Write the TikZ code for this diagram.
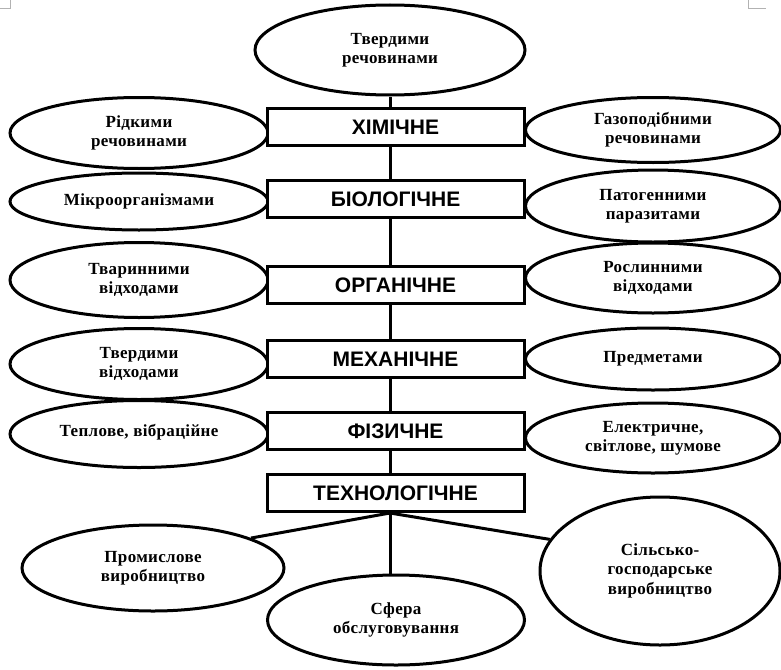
\documentclass[tikz,border=0pt]{standalone}
\usepackage{fontspec}
\setmainfont{Liberation Serif}[LetterSpace=2]
\newfontfamily\boxfont{Liberation Sans}
\usetikzlibrary{shapes.geometric}
\newcommand{\etext}[2]{\raisebox{#1}{\begin{tabular}{@{}c@{}}#2\end{tabular}}}
\begin{document}
\begin{tikzpicture}[x=1pt,y=-1pt,
  ell/.style={ellipse,draw=black,fill=white,line width=3pt,inner sep=0pt,
    font=\fontsize{17}{19.5}\selectfont\bfseries},
  cat/.style={rectangle,draw=black,fill=white,line width=3pt,minimum width=257pt,
    minimum height=37pt,inner sep=0pt,font=\boxfont\fontsize{21}{24}\selectfont\bfseries},
  link/.style={line width=3pt},
  cornermark/.style={draw=gray!60,line width=0.8pt}]
\useasboundingbox (0,0) rectangle (781,669);
% page corner marks
\coordinate (m1a) at (0,8); \coordinate (m1b) at (10,8); \coordinate (m1c) at (10,0);
\coordinate (m2a) at (748,0); \coordinate (m2b) at (748,8); \coordinate (m2c) at (766,8);
\draw[cornermark] (m1a) -- (m1b) -- (m1c);
\draw[cornermark] (m2a) -- (m2b) -- (m2c);
% top ellipse
\node[ell,minimum width=270pt,minimum height=90pt] (top) at (390,50) {\etext{2pt}{Твердими\\речовинами}};
% left ellipses
\node[ell,minimum width=258pt,minimum height=71pt] (l1) at (139,133) {\etext{0pt}{Рідкими\\речовинами}};
\node[ell,minimum width=258pt,minimum height=57pt] (l2) at (139,201.5) {\etext{4pt}{Мікроорганізмами}};
\node[ell,minimum width=258pt,minimum height=75pt] (l3) at (139,280) {\etext{0pt}{Тваринними\\відходами}};
\node[ell,minimum width=258pt,minimum height=71pt] (l4) at (139,364) {\etext{-2pt}{Твердими\\відходами}};
\node[ell,minimum width=258pt,minimum height=67pt] (l5) at (139,434) {\etext{9pt}{Теплове, вібраційне}};
% right ellipses
\node[ell,minimum width=255pt,minimum height=65pt] (r1) at (653,130) {\etext{0pt}{Газоподібними\\речовинами}};
\node[ell,minimum width=255pt,minimum height=72pt] (r2) at (653,206) {\etext{1pt}{Патогенними\\паразитами}};
\node[ell,minimum width=255pt,minimum height=70pt] (r3) at (653,278) {\etext{-1pt}{Рослинними\\відходами}};
\node[ell,minimum width=255pt,minimum height=62pt] (r4) at (653,359) {\etext{6pt}{Предметами}};
\node[ell,minimum width=255pt,minimum height=70pt] (r5) at (653,438) {\etext{1pt}{Електричне,\\світлове, шумове}};
% category boxes
\node[cat] (chem) at (395.5,127) {\raisebox{-2pt}{ХІМІЧНЕ}};
\node[cat] (bio)  at (395.5,199) {\raisebox{-2pt}{БІОЛОГІЧНЕ}};
\node[cat] (org)  at (395.5,285) {\raisebox{-2pt}{ОРГАНІЧНЕ}};
\node[cat] (mech) at (395.5,359) {\raisebox{-2pt}{МЕХАНІЧНЕ}};
\node[cat] (phys) at (395.5,431) {\raisebox{-2pt}{ФІЗИЧНЕ}};
\node[cat] (tech) at (395.5,493) {\raisebox{-2pt}{ТЕХНОЛОГІЧНЕ}};
% spine
\draw[link] (top.south) -- (top.south |- chem.north);
\draw[link] (top.south |- chem.south) -- (top.south |- bio.north);
\draw[link] (top.south |- bio.south) -- (top.south |- org.north);
\draw[link] (top.south |- org.south) -- (top.south |- mech.north);
\draw[link] (top.south |- mech.south) -- (top.south |- phys.north);
\draw[link] (top.south |- phys.south) -- (top.south |- tech.north);
% bottom ellipses
\node[ell,minimum width=262pt,minimum height=86pt] (b1) at (153,568) {\etext{4pt}{Промислове\\виробництво}};
\node[ell,minimum width=257pt,minimum height=90pt] (b2) at (396,620) {\etext{3pt}{Сфера\\обслуговування}};
\node[ell,minimum width=240pt,minimum height=148pt] (b3) at (660,571) {\etext{11pt}{Сільсько-\\господарське\\виробництво}};
% bottom connectors
\coordinate (tb) at (top.south |- tech.south);
\draw[link] (tb) -- (b1.17);
\draw[link] (tb) -- (b2.north -| tb);
\draw[link] (tb) -- (b3.164);
\end{tikzpicture}
\end{document}
